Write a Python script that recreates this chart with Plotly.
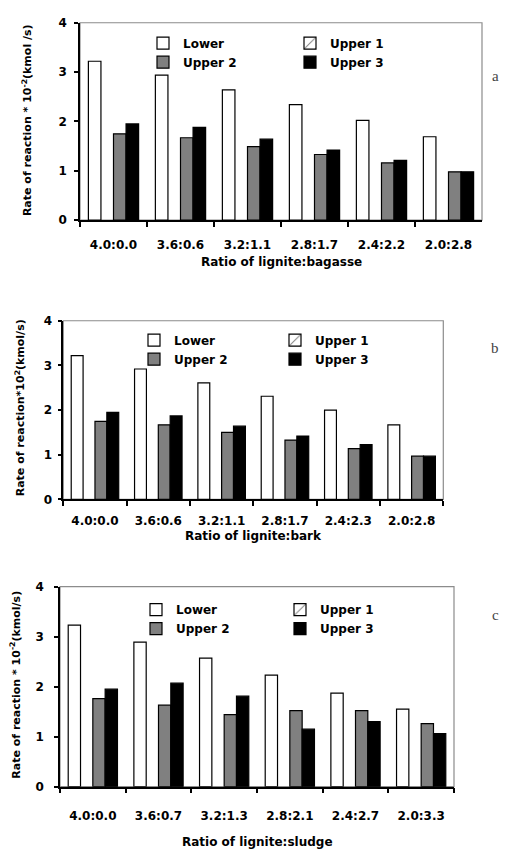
import plotly.graph_objects as go

series_names = ["Lower", "Upper 1", "Upper 2", "Upper 3"]

cats_a = ["4.0:0.0", "3.6:0.6", "3.2:1.1", "2.8:1.7", "2.4:2.2", "2.0:2.8"]
lower_a = [3.22, 2.94, 2.64, 2.34, 2.02, 1.69]
upper1_a = [None, None, None, None, None, None]
upper2_a = [1.75, 1.67, 1.49, 1.33, 1.16, 0.98]
upper3_a = [1.95, 1.88, 1.64, 1.42, 1.21, 0.98]

cats_b = ["4.0:0.0", "3.6:0.6", "3.2:1.1", "2.8:1.7", "2.4:2.3", "2.0:2.8"]
lower_b = [3.22, 2.92, 2.61, 2.31, 2.00, 1.67]
upper1_b = [None, None, None, None, None, None]
upper2_b = [1.75, 1.67, 1.50, 1.33, 1.14, 0.97]
upper3_b = [1.95, 1.87, 1.64, 1.42, 1.23, 0.97]

cats_c = ["4.0:0.0", "3.6:0.7", "3.2:1.3", "2.8:2.1", "2.4:2.7", "2.0:3.3"]
lower_c = [3.23, 2.89, 2.57, 2.23, 1.87, 1.55]
upper1_c = [None, None, None, None, None, None]
upper2_c = [1.76, 1.63, 1.44, 1.52, 1.52, 1.26]
upper3_c = [1.95, 2.07, 1.81, 1.15, 1.30, 1.06]

y_ticks = [0, 1, 2, 3, 4]

W, H = 505, 852
BOLD = "DejaVu Sans"

def px_x(v):
    return v / W

def px_y(v):
    return 1 - v / H

panels = [
    dict(cats=cats_a, data=[lower_a, upper1_a, upper2_a, upper3_a], xa="x", ya="y",
         xdom=(80, 482), ydom=(16, 216.7), leg=("legend", "legend2"),
         legx=(143, 290), legtop=22, xstand=13, ystand=5,
         ytitle="Rate of reaction * 10<sup>-2</sup>(kmol /s)", ytx=27, yty=115,
         xtitle="Ratio of lignite:bagasse", xty=259, letter="a", lety=70),
    dict(cats=cats_b, data=[lower_b, upper1_b, upper2_b, upper3_b], xa="x2", ya="y2",
         xdom=(63.3, 443.3), ydom=(319, 500.7), leg=("legend3", "legend4"),
         legx=(134, 275), legtop=324, xstand=9, ystand=3,
         ytitle="Rate of reaction*10<sup>2</sup>(kmol/s)", ytx=20, yty=408,
         xtitle="Ratio of lignite:bark", xty=538, letter="b", lety=347),
    dict(cats=cats_c, data=[lower_c, upper1_c, upper2_c, upper3_c], xa="x3", ya="y3",
         xdom=(60, 454), ydom=(589.3, 792.7), leg=("legend5", "legend6"),
         legx=(136, 280), legtop=598, xstand=17, ystand=8,
         ytitle="Rate of reaction * 10<sup>-2</sup>(kmol/s)", ytx=16, yty=689,
         xtitle="Ratio of lignite:sludge", xty=849, letter="c", lety=618),
]

styles = [
    dict(color="white"),
    dict(color="white", pattern=dict(shape="/", fgcolor="black", bgcolor="white", size=12, solidity=0.12)),
    dict(color="#808080"),
    dict(color="black"),
]
legend_col = [0, 1, 0, 1]

fig = go.Figure()
layout = dict(
    width=W, height=H, margin=dict(l=0, r=0, t=0, b=0),
    paper_bgcolor="white", plot_bgcolor="white",
    barmode="group", bargap=0.25, bargroupgap=0,
    font=dict(family=BOLD, color="black"),
    showlegend=True,
)
annotations = []
shapes = []

for i, p in enumerate(panels):
    for k, name in enumerate(series_names):
        fig.add_trace(go.Bar(
            x=p["cats"], y=p["data"][k], name=name,
            xaxis=p["xa"], yaxis=p["ya"],
            marker=dict(**styles[k], line=dict(color="black", width=1.2)),
            legend=p["leg"][legend_col[k]], showlegend=True,
        ))
    xk = "xaxis" + ("" if i == 0 else str(i + 1))
    yk = "yaxis" + ("" if i == 0 else str(i + 1))
    layout[xk] = dict(
        domain=[px_x(p["xdom"][0]), px_x(p["xdom"][1])], anchor=p["ya"],
        type="category", showline=True, linecolor="black", linewidth=1.5,
        ticks="outside", tickson="boundaries", ticklen=5, tickwidth=1.5, tickcolor="black",
        showgrid=False, zeroline=False, ticklabelstandoff=p["xstand"],
        tickfont=dict(family=BOLD, size=12, color="black", weight="bold"),
    )
    layout[yk] = dict(
        domain=[px_y(p["ydom"][1]), px_y(p["ydom"][0])], anchor=p["xa"],
        range=[0, 4], tickvals=y_ticks, showline=True, linecolor="black", linewidth=1.5,
        ticks="outside", ticklen=4, tickwidth=1.5, tickcolor="black",
        showgrid=False, zeroline=False, ticklabelstandoff=p["ystand"],
        tickfont=dict(family=BOLD, size=12, color="black", weight="bold"),
    )
    for c in range(2):
        lk = p["leg"][c]
        layout[lk] = dict(
            x=px_x(p["legx"][c]), xanchor="left",
            y=px_y(p["legtop"]), yanchor="top",
            orientation="v", bgcolor="rgba(0,0,0,0)", borderwidth=0,
            itemwidth=30, tracegroupgap=0,
            font=dict(family=BOLD, size=12, color="black", weight="bold"),
        )
    shapes.append(dict(type="rect", xref=p["xa"] + " domain", yref=p["ya"] + " domain",
                       x0=0, x1=1, y0=0, y1=1, line=dict(color="#8c8c8c", width=1.2),
                       layer="below"))
    annotations.append(dict(
        text=p["ytitle"], textangle=-90, xref="paper", yref="paper",
        x=px_x(p["ytx"]), y=px_y(p["yty"]), xanchor="center", yanchor="middle",
        showarrow=False, font=dict(family=BOLD, size=11, color="black", weight="bold"),
    ))
    annotations.append(dict(
        text=p["xtitle"], xref="paper", yref="paper",
        x=px_x((p["xdom"][0] + p["xdom"][1]) / 2), y=px_y(p["xty"]),
        xanchor="center", yanchor="middle", showarrow=False,
        font=dict(family=BOLD, size=12, color="black", weight="bold"),
    ))
    annotations.append(dict(
        text=p["letter"], xref="paper", yref="paper",
        x=px_x(495), y=px_y(p["lety"]), xanchor="center", yanchor="middle",
        showarrow=False, font=dict(family="Liberation Serif", size=15, color="#444444"),
    ))

layout["annotations"] = annotations
layout["shapes"] = shapes
fig.update_layout(**layout)

fig.write_html("out.html", config={"displayModeBar": False},
               post_script="document.body.style.margin='0';document.body.style.overflow='hidden';")
